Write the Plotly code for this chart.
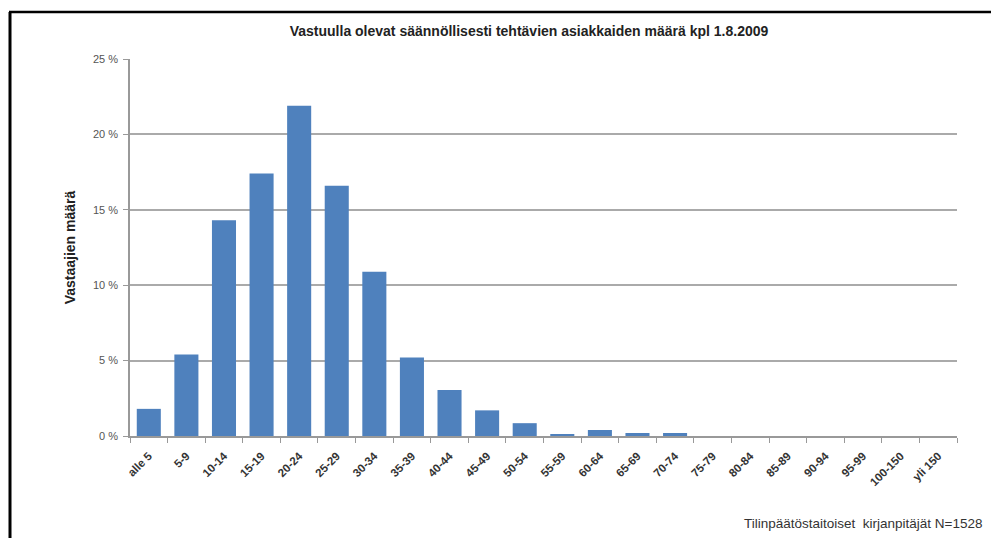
import plotly.graph_objects as go

categories = ["alle 5", "5-9", "10-14", "15-19", "20-24", "25-29", "30-34", "35-39",
              "40-44", "45-49", "50-54", "55-59", "60-64", "65-69", "70-74", "75-79",
              "80-84", "85-89", "90-94", "95-99", "100-150", "yli 150"]
values = [1.8, 5.4, 14.3, 17.4, 21.9, 16.6, 10.9, 5.2, 3.05, 1.7, 0.85, 0.1,
          0.4, 0.2, 0.2, 0, 0, 0, 0, 0, 0, 0]
y_ticks = [0, 5, 10, 15, 20, 25]
y_tick_labels = ["0 %", "5 %", "10 %", "15 %", "20 %", "25 %"]

title = "Vastuulla olevat säännöllisesti tehtävien asiakkaiden määrä kpl 1.8.2009"
y_title = "Vastaajien määrä"
note = "Tilinpäätöstaitoiset  kirjanpitäjät N=1528"

OFF = 8  # browser body margin
W, H = 999 - OFF, 538 - OFF
L, R, T, B = 130 - OFF, 42, 59 - OFF, 102
pw, ph = W - L - R, H - T - B

def px(x):
    return (x - OFF - L) / pw

def py(y):
    return (H - B - (y - OFF)) / ph

fig = go.Figure()
fig.add_trace(go.Bar(x=categories, y=values, marker=dict(color="#4F81BD", line=dict(width=0)),
                     width=0.64))

font = "Liberation Sans, Arial, sans-serif"
fig.update_layout(
    width=W, height=H,
    margin=dict(l=L, r=R, t=T, b=B),
    paper_bgcolor="white", plot_bgcolor="white",
    showlegend=False,
    font=dict(family=font, color="#222"),
    title=dict(text="<b>" + title + "</b>", x=(529 - OFF) / W, xanchor="center",
               y=1 - (31 - OFF) / H, yanchor="middle", font=dict(size=14, color="#222", family=font)),
    xaxis=dict(type="category", tickangle=-45,
               tickfont=dict(size=11.5, color="#333", family=font, weight="bold"),
               showline=True, linecolor="#999", linewidth=1.5,
               ticks="outside", ticklen=5, tickcolor="#999", tickson="boundaries",
               ticklabelstandoff=7,
               showgrid=False, range=[-0.5, len(categories) - 0.5]),
    yaxis=dict(range=[0, 25], tickvals=y_ticks, ticktext=y_tick_labels,
               tickfont=dict(size=11, color="#555", family=font),
               showline=True, linecolor="#999", linewidth=1.5,
               ticks="outside", ticklen=5, tickcolor="#999", ticklabelstandoff=3,
               showgrid=True, gridcolor="#aaaaaa", gridwidth=1.5, zeroline=False,
               title=dict(text="<b>" + y_title + "</b>", font=dict(size=14, color="#222", family=font),
                          standoff=14)),
    annotations=[dict(text=note, xref="paper", yref="paper", x=px(985), y=py(523),
                      xanchor="right", yanchor="middle", showarrow=False,
                      font=dict(size=13.5, color="#333", family=font))],
    shapes=[
        dict(type="line", xref="paper", yref="paper", x0=px(9), x1=px(999), y0=py(12), y1=py(12),
             line=dict(color="black", width=2.5)),
        dict(type="line", xref="paper", yref="paper", x0=px(10), x1=px(10), y0=py(12), y1=py(538),
             line=dict(color="black", width=3)),
    ],
)

fig.write_html("out.html")
